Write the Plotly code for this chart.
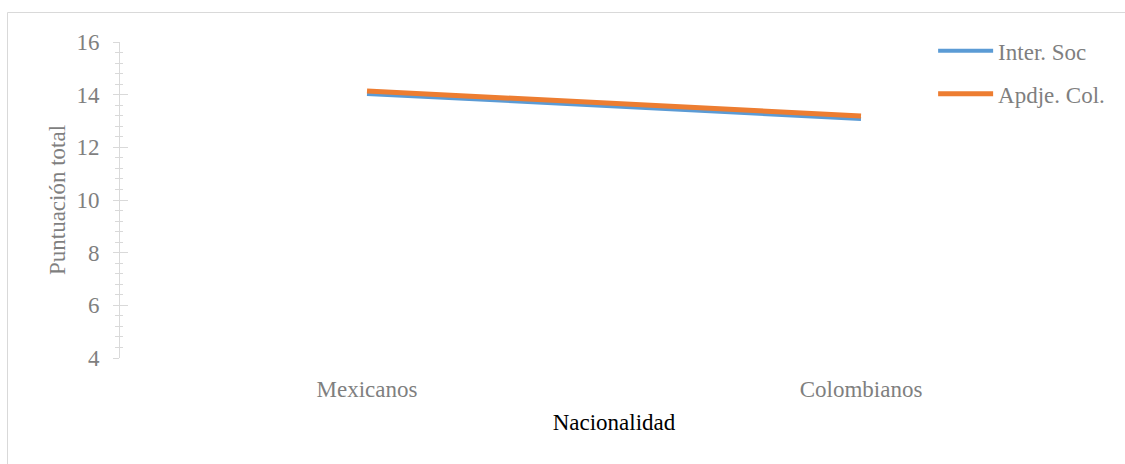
import plotly.graph_objects as go

categories = ["Mexicanos", "Colombianos"]
inter_soc = [14.03, 13.08]
apdje_col = [14.14, 13.19]
series_names = ["Inter. Soc", "Apdje. Col."]

FONT = "'Times New Roman', 'Liberation Serif', serif"
GRAY = "#7f7f7f"
FS = 23

fig = go.Figure()
fig.add_trace(go.Scatter(x=categories, y=inter_soc, mode="lines", name=series_names[0],
                         line=dict(color="#5B9BD5", width=4), legendgroup="a"))
fig.add_trace(go.Scatter(x=categories, y=apdje_col, mode="lines", name=series_names[1],
                         line=dict(color="#ED7D31", width=5), legendgroup="b"))
# overlay axis for inside part of tick marks
fig.add_trace(go.Scatter(x=categories, y=apdje_col, mode="lines", yaxis="y2",
                         line=dict(width=0), showlegend=False, hoverinfo="skip"))

fig.update_layout(
    width=1125, height=464,
    margin=dict(l=120, r=17, t=42, b=106),
    paper_bgcolor="white", plot_bgcolor="white",
    font=dict(family=FONT, size=FS, color=GRAY),
    showlegend=True,
    legend=dict(x=0.823, y=1.04, xanchor="left", yanchor="top",
                font=dict(family=FONT, size=FS, color=GRAY),
                traceorder="grouped", tracegroupgap=10, itemwidth=55,
                bgcolor="rgba(0,0,0,0)"),
    xaxis=dict(range=[-0.5, 1.5], showgrid=False, showline=False, zeroline=False,
               ticks="", tickfont=dict(family=FONT, size=FS, color=GRAY),
               ticklabelstandoff=15,
               title=dict(text="Nacionalidad", font=dict(family=FONT, size=FS, color="#000000"),
                          standoff=12)),
    yaxis=dict(range=[4, 16], dtick=2, showgrid=False, zeroline=False,
               showline=True, linecolor="#d9d9d9", linewidth=1,
               ticks="outside", ticklen=6, tickcolor="#d9d9d9", tickwidth=1,
               minor=dict(dtick=0.4, ticks="outside", ticklen=4, tickcolor="#d9d9d9", tickwidth=1),
               tickfont=dict(family=FONT, size=FS, color=GRAY),
               ticklabelstandoff=9,
               title=dict(text="Puntuación total", font=dict(family=FONT, size=FS, color=GRAY),
                          standoff=4)),
    yaxis2=dict(range=[4, 16], dtick=2, overlaying="y", side="left", showgrid=False,
                zeroline=False, showline=False, showticklabels=False,
                ticks="inside", ticklen=8, tickcolor="#d9d9d9", tickwidth=1,
                minor=dict(dtick=0.4, ticks="inside", ticklen=3, tickcolor="#d9d9d9", tickwidth=1)),
    shapes=[dict(type="rect", xref="paper", yref="paper",
                 x0=(7.5 - 120) / 988, x1=1.1, y0=-0.5, y1=(358 - 12.5) / 316,
                 line=dict(color="#d9d9d9", width=1), fillcolor="rgba(0,0,0,0)", layer="below")],
)

fig.write_html("out.html")
